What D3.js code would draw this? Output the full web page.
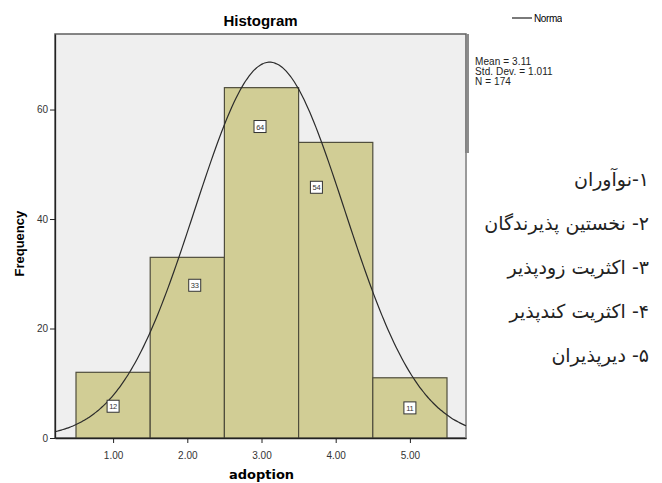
<!DOCTYPE html>
<html>
<head>
<meta charset="utf-8">
<script src="https://cdn.jsdelivr.net/npm/d3@7"></script>
<style>
  body { margin: 0; background: #fff; }
</style>
</head>
<body>
<svg class="chart"></svg>
<script>
// bins of the histogram (centre of each bin) and their counts
var binCenters = [1, 2, 3, 4, 5];
var counts = [12, 33, 64, 54, 11];
// where SPSS dropped the little count boxes (data units)
var labelX = [1.0, 2.1, 2.98, 3.74, 5.0];
var labelY = [5.8, 27.9, 56.9, 45.8, 5.5];
var yTicks = [0, 20, 40, 60];
var xTicks = [1, 2, 3, 4, 5];
var stats = { mean: 3.11, sd: 1.011, n: 174 };
var statLines = ["Mean = 3.11", "Std. Dev. = 1.011", "N = 174"];
var notes = ["۱-نوآوران", "۲- نخستین پذیرندگان", "۳- اکثریت زودپذیر", "۴- اکثریت کندپذیر", "۵- دیرپذیران"];

var drawChart = function(w, h, c)
{
  var svg = d3.select(c)
              .attr("width", w)
              .attr("height", h);

  var margins = { top: 34, left: 55, right: 196, bottom: 45 };
  var width = w - margins.left - margins.right;
  var height = h - margins.top - margins.bottom;

  var xScale = d3.scaleLinear()
                 .domain([0.217, 5.756])
                 .range([0, width]);
  var yScale = d3.scaleLinear()
                 .domain([0, 73.8])
                 .range([height, 0]);

  var g = svg.append("g")
             .attr("transform", "translate(" + margins.left + "," + margins.top + ")");

  // plot background + frame
  g.append("rect")
   .attr("width", width)
   .attr("height", height)
   .attr("fill", "#efefef")
   .attr("stroke", "#5f5f5f")
   .attr("stroke-width", 1.5);
  g.append("line")
   .attr("x1", width + 2).attr("x2", width + 2)
   .attr("y1", 0).attr("y2", 119)
   .attr("stroke", "#8c8c8c").attr("stroke-width", 2);
  g.append("line")
   .attr("x1", width).attr("x2", width)
   .attr("y1", 119).attr("y2", height)
   .attr("stroke", "#9a9a9a").attr("stroke-width", 2);

  // bars
  g.selectAll(".bar")
   .data(counts)
   .enter()
   .append("rect")
   .attr("class", "bar")
   .attr("x", function(d, i) { return xScale(binCenters[i] - 0.5); })
   .attr("width", function(d, i) { return xScale(binCenters[i] + 0.5) - xScale(binCenters[i] - 0.5); })
   .attr("y", function(d) { return yScale(d); })
   .attr("height", function(d) { return yScale(0) - yScale(d); })
   .attr("fill", "#d1cd95")
   .attr("stroke", "#4f4d3c")
   .attr("stroke-width", 1.2);

  // normal curve from the reported mean / sd / n (bin width 1)
  var xs = d3.range(0, 201).map(function(i) { return 0.217 + i * (5.756 - 0.217) / 200; });
  var normal = function(x) {
    var z = (x - stats.mean) / stats.sd;
    return stats.n * Math.exp(-0.5 * z * z) / (stats.sd * Math.sqrt(2 * Math.PI));
  };
  var drawLine = d3.line()
                   .x(function(d) { return xScale(d); })
                   .y(function(d) { return yScale(normal(d)); })
                   .curve(d3.curveBasis);
  g.append("path")
   .datum(xs)
   .attr("d", drawLine)
   .attr("fill", "none")
   .attr("stroke", "#2b2b2b")
   .attr("stroke-width", 1.2);

  // count boxes
  var lab = g.selectAll(".lab")
             .data(counts)
             .enter()
             .append("g")
             .attr("class", "lab")
             .attr("transform", function(d, i) {
               return "translate(" + xScale(labelX[i]) + "," + yScale(labelY[i]) + ")";
             });
  lab.append("rect")
     .attr("x", -6).attr("y", -6)
     .attr("width", 12).attr("height", 12)
     .attr("fill", "#fff")
     .attr("stroke", "#333")
     .attr("stroke-width", 1);
  lab.append("text")
     .attr("text-anchor", "middle")
     .attr("y", 3)
     .attr("font-family", "Liberation Sans, Arial")
     .attr("font-size", 7.5)
     .attr("letter-spacing", -0.3)
     .attr("fill", "#333")
     .text(function(d) { return d; });

  // axes
  var xAxis = d3.axisBottom(xScale)
                .tickValues(xTicks)
                .tickSize(5)
                .tickSizeOuter(0)
                .tickFormat(d3.format(".2f"));
  var gx = g.append("g")
            .attr("transform", "translate(0," + height + ")")
            .call(xAxis);
  var yAxis = d3.axisLeft(yScale)
                .tickValues(yTicks)
                .tickSize(5)
                .tickSizeOuter(0);
  var gy = g.append("g").call(yAxis);

  [gx, gy].forEach(function(a) {
    a.select(".domain").attr("stroke", "#222").attr("stroke-width", 1.3);
    a.selectAll(".tick line").attr("stroke", "#222");
    a.selectAll("text")
     .attr("font-family", "Liberation Sans, Arial")
     .attr("font-size", 10)
     .attr("fill", "#333");
  });
  gx.selectAll("text").attr("dy", "1.3em");
  gy.selectAll("text").attr("dx", "0.1em");

  // title and axis titles
  svg.append("text")
     .attr("x", margins.left + width / 2)
     .attr("y", 26)
     .attr("text-anchor", "middle")
     .attr("font-family", "Liberation Sans, Arial")
     .attr("font-weight", "bold")
     .attr("font-size", 15)
     .text("Histogram");

  svg.append("text")
     .attr("x", margins.left + xScale(3))
     .attr("y", 479)
     .attr("text-anchor", "middle")
     .attr("font-family", "DejaVu Sans, sans-serif")
     .attr("font-weight", "bold")
     .attr("font-size", 13)
     .text("adoption");

  svg.append("text")
     .attr("transform", "translate(24," + (margins.top + yScale(35.5)) + ") rotate(-90)")
     .attr("text-anchor", "middle")
     .attr("font-family", "Liberation Sans, Arial")
     .attr("font-weight", "bold")
     .attr("font-size", 13)
     .text("Frequency");

  // legend (clipped like the original)
  svg.append("clipPath").attr("id", "legclip")
     .append("rect").attr("x", 500).attr("y", 0).attr("width", 62).attr("height", 30);
  var leg = svg.append("g").attr("clip-path", "url(#legclip)");
  leg.append("line")
     .attr("x1", 512).attr("x2", 532)
     .attr("y1", 18).attr("y2", 18)
     .attr("stroke", "#222").attr("stroke-width", 1.2);
  leg.append("text")
     .attr("x", 534).attr("y", 22)
     .attr("font-family", "Liberation Sans, Arial")
     .attr("font-size", 10)
     .attr("letter-spacing", -0.4)
     .text("Normal");

  // stats box
  svg.selectAll(".stat")
     .data(statLines)
     .enter()
     .append("text")
     .attr("class", "stat")
     .attr("x", 475)
     .attr("y", function(d, i) { return 65 + i * 10; })
     .attr("font-family", "Liberation Sans, Arial")
     .attr("font-size", 10)
     .attr("letter-spacing", 0.1)
     .attr("fill", "#222")
     .text(function(d) { return d; });

  // persian notes on the right
  svg.selectAll(".note")
     .data(notes)
     .enter()
     .append("text")
     .attr("class", "note")
     .attr("x", 649)
     .attr("y", function(d, i) { return 186 + i * 44; })
     .attr("direction", "rtl")
     .attr("text-anchor", "start")
     .attr("font-family", "DejaVu Sans, sans-serif")
     .attr("font-size", 19)
     .attr("fill", "#222")
     .text(function(d) { return d; });
}

drawChart(662, 483, ".chart");
</script>
</body>
</html>
